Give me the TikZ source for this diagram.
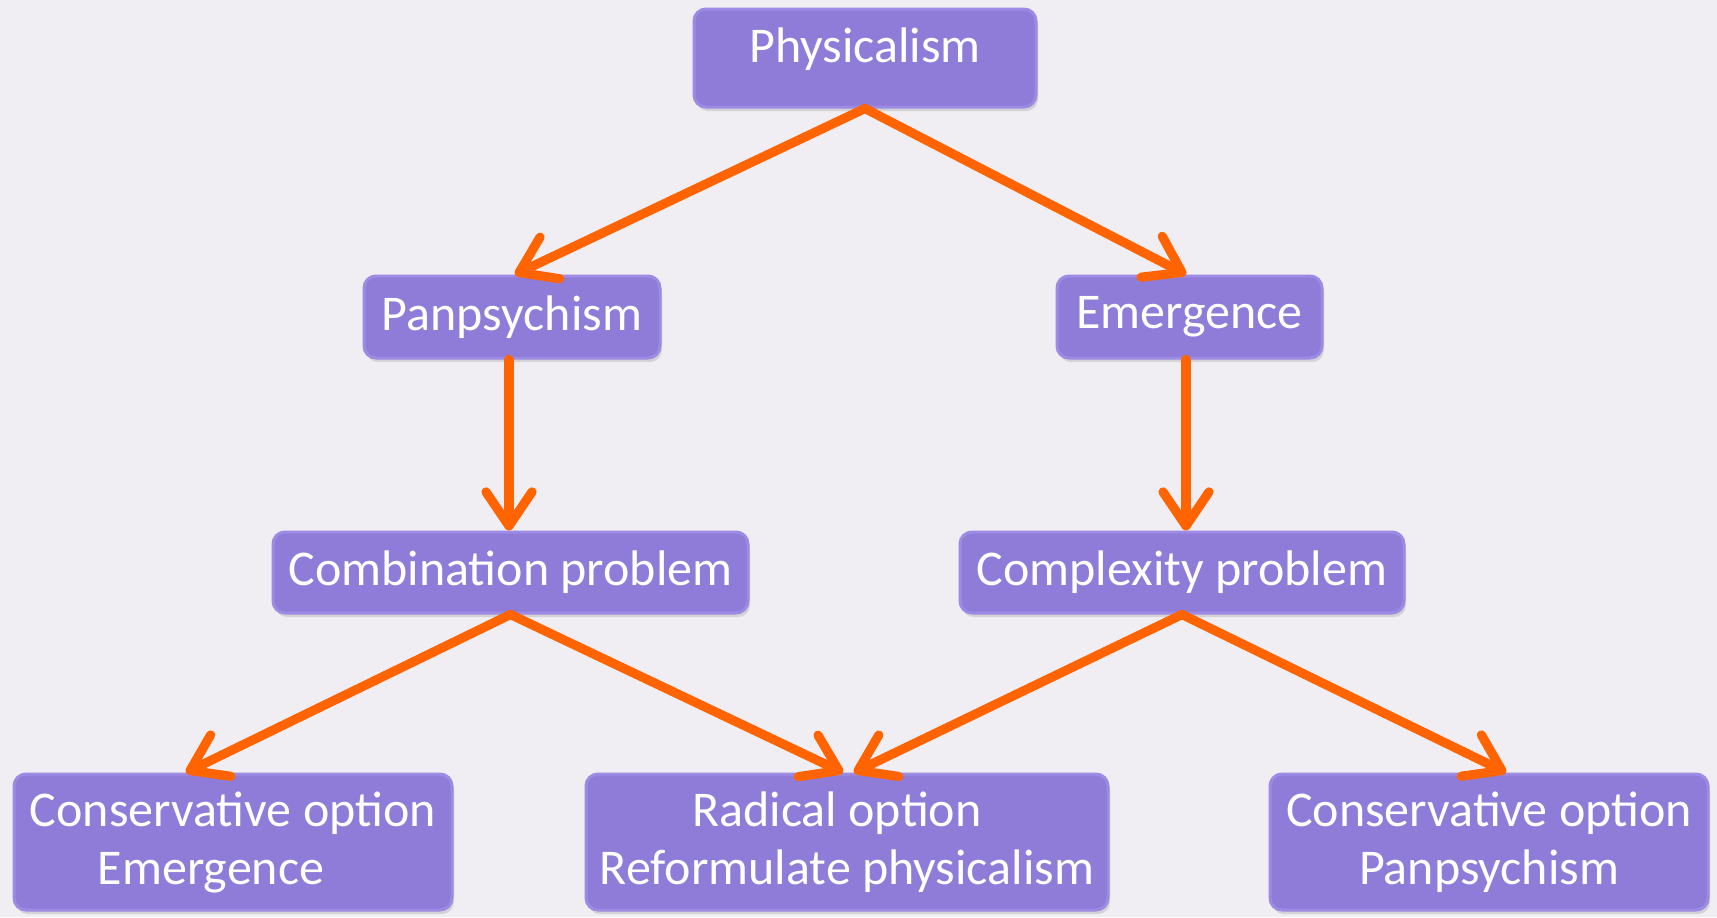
\documentclass[tikz,border=0pt]{standalone}
\usepackage{fontspec}
\setmainfont{Carlito}
\usetikzlibrary{arrows.meta,shadows}

\definecolor{boxfill}{RGB}{142,124,216}
\definecolor{boxline}{RGB}{156,138,228}
\definecolor{arrowcol}{RGB}{255,100,0}
\definecolor{paper}{RGB}{240,238,242}

\begin{document}
\begin{tikzpicture}[x=0.5pt,y=-0.5pt]

\tikzstyle{every node}=[font=\fontsize{25}{29}\selectfont, text=white]
\tikzstyle{box}=[draw=boxline, line width=1.5pt, fill=boxfill, rounded corners=6pt, inner sep=0pt, align=center,
  drop shadow={shadow xshift=1pt, shadow yshift=-2pt, opacity=0.25}]
\tikzstyle{link}=[->, >={Straight Barb[length=17pt,width=23pt,round]}, draw=arrowcol, line width=4.6pt, line cap=round]

\fill[paper] (0,0) rectangle (1717,917);
\useasboundingbox (0,0) rectangle (1717,917);

\pgfmathsetmacro\y{58}
\node[box, minimum width=171pt, minimum height=49pt, text depth=13pt] (phys) at (865,\y) {Physicalism};

\pgfmathsetmacro\y{317}
\node[box, minimum width=148pt, minimum height=41pt] (pan) at (512,\y) {Panpsychism};
\node[box, minimum width=132.5pt, minimum height=41pt] (emer) at (1189.5,\y) {Emergence};

\draw[link] (phys.south) -- ([xshift=1.5pt]pan.north);
\draw[link] (phys.south) -- ([xshift=-1.75pt]emer.north);

\pgfmathsetmacro\y{572.5}
\node[box, minimum width=237.5pt, minimum height=40.5pt] (comb) at (510.5,\y) {Combination problem};
\node[box, minimum width=222pt, minimum height=40.5pt] (comp) at (1182,\y) {Complexity problem};

\draw[link] ([xshift=-1.5pt]pan.south) -- ([xshift=-1.5pt]pan.south |- comb.north);
\draw[link] ([xshift=-1.75pt]emer.south) -- ([xshift=-1.75pt]emer.south |- comp.north);

\pgfmathsetmacro\y{842}
\node[box, minimum width=219pt, minimum height=68pt] (consemer) at (233,\y) {Conservative option\\Emergence\hspace*{22pt}};
\node[box, minimum width=261pt, minimum height=68pt] (radical) at (847,\y) {Radical option\hspace*{10pt}\\Reformulate physicalism};
\node[box, minimum width=219pt, minimum height=68pt] (conspan) at (1489,\y) {Conservative option\\Panpsychism};

\draw[link] (comb.south) -- ([xshift=-23.5pt]consemer.north);
\draw[link] (comb.south) -- ([xshift=-2pt]radical.north);
\draw[link] (comp.south) -- ([xshift=3.5pt]radical.north);
\draw[link] (comp.south) -- ([xshift=8.5pt]conspan.north);

\end{tikzpicture}
\end{document}
